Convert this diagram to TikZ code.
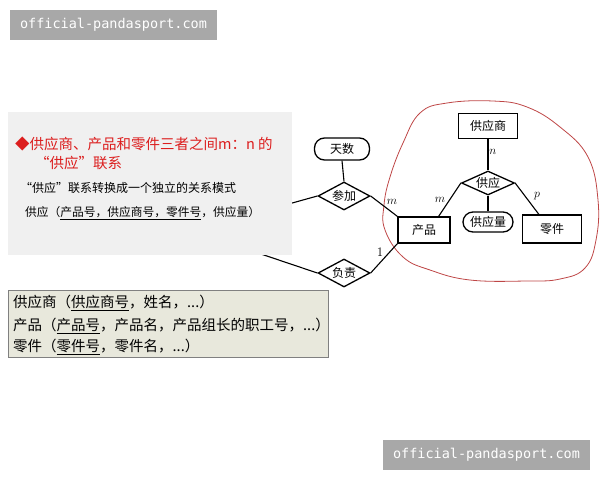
\documentclass[tikz,border=0pt]{standalone}
\usepackage{fontspec}
\usetikzlibrary{shapes.geometric,calc}
\newfontfamily\cjk{Noto Sans CJK SC}
\newfontfamily\song{Noto Sans CJK SC}
\newfontfamily\wmfont{DejaVu Sans Mono}
\definecolor{wmgray}{RGB}{168,168,168}
\definecolor{panelgray}{RGB}{240,240,240}
\definecolor{boxfill}{RGB}{232,232,220}
\definecolor{boxline}{RGB}{128,128,128}
\definecolor{redtxt}{RGB}{220,30,30}
\definecolor{blobred}{RGB}{190,70,70}
\newcommand\ulx[1]{\underline{#1}}
\tikzset{
  wm/.style={fill=wmgray, text=white, inner sep=0pt, minimum width=207pt, minimum height=30pt, font=\wmfont\fontsize{13.5}{14}\selectfont},
  entity/.style={draw, line width=1.3pt, inner sep=0pt, font=\song\fontsize{12}{13}\selectfont},
  attr/.style={draw, line width=1.3pt, rounded corners=10pt, inner sep=0pt, font=\song\fontsize{12}{13}\selectfont},
  rel/.style={draw, diamond, aspect=1.9, line width=1.3pt, inner sep=0pt, font=\song\fontsize{12}{13}\selectfont},
  conn/.style={line width=1.1pt},
  card/.style={font=\fontsize{13}{14}\selectfont, inner sep=0pt},
  txt/.style={anchor=west, inner sep=0pt},
}
\begin{document}
\begin{tikzpicture}[x=1pt,y=-1pt]
\useasboundingbox (0,0) rectangle (600,480);
% watermarks
\node[wm] (wm1) at (113.5,25) {official-pandasport.com};
\node[wm] (wm2) at (486.5,455) {official-pandasport.com};
% red blob
\draw[blobred, line width=0.8pt] plot[smooth cycle, tension=0.7] coordinates {
  (420,113) (447,103) (493,101) (527,107) (560,127) (588,157) (598,200)
  (596,240) (585,268) (560,279) (527,281) (470,280) (430,270) (403,257)
  (385,230) (384,205) (390,177) (403,143)};
% ER nodes
\node[attr, minimum width=55pt, minimum height=22pt] (tianshu) at (342,149) {天数};
\node[rel, minimum width=52pt, minimum height=28pt] (canjia) at (344,196) {参加};
\node[rel, minimum width=52pt, minimum height=28pt] (fuze) at (344,273) {负责};
\node[entity, minimum width=52pt, minimum height=26pt] (chanpin) at (424,230) {产品};
\node[entity, minimum width=59pt, minimum height=25pt] (gysh) at (488,126) {供应商};
\node[rel, minimum width=53pt, minimum height=24pt] (gy) at (488,183) {供应};
\node[attr, minimum width=50pt, minimum height=20pt] (gyl) at (488,222) {供应量};
\node[entity, minimum width=59pt, minimum height=28pt] (lj) at (552,229) {零件};
\coordinate (cjfree) at (285,205);
\coordinate (fzfree) at (258,253);
% connectors
\draw[conn] (tianshu.south) -- (canjia.north);
\draw[conn] (cjfree) -- (canjia.west);
\draw[conn] (canjia.east) -- (chanpin.north west);
\draw[conn] (fzfree) -- (fuze.west);
\draw[conn] (fuze.east) -- (chanpin.south west);
\draw[conn] (gysh.south) -- (gy.north);
\draw[conn] (gy.south) -- (gyl.north);
\draw[conn] (gy.west) -- ([xshift=-12pt]chanpin.north east);
\draw[conn] (gy.east) -- ([xshift=17pt]lj.north west);
% cardinalities
\node[card] (c1) at (392,202) {$m$};
\node[card] (c2) at (380,252) {1};
\node[card] (c3) at (493,152) {$n$};
\node[card] (c4) at (440,200) {$m$};
\node[card] (c5) at (537,196) {$p$};
% panel
\node[fill=panelgray, inner sep=0pt, minimum width=284pt, minimum height=143pt, anchor=north west] (panel) at (8,112) {};
\node[txt, text=redtxt, font=\cjk\fontsize{14.5}{15}\selectfont] (p1) at (15,144) {◆供应商、产品和零件三者之间m：n 的};
\node[txt, text=redtxt, font=\cjk\fontsize{14.5}{15}\selectfont] (p2) at (35,163) {“供应”联系};
\node[txt, font=\cjk\fontsize{12}{13}\selectfont] (p3) at (20,188) {“供应”联系转换成一个独立的关系模式};
\node[txt, font=\cjk\fontsize{11.75}{13}\selectfont] (p4) at (25,213) {供应（\ulx{产品号，供应商号，零件号}，供应量）};
% bottom box
\node[draw=boxline, fill=boxfill, line width=1pt, inner sep=0pt, minimum width=320pt, minimum height=67pt, anchor=north west] (box) at (8,290) {};
\node[txt, font=\cjk\fontsize{14.5}{15}\selectfont] (b1) at (13,303) {供应商（\ulx{供应商号}，姓名，...）};
\node[txt, font=\cjk\fontsize{14.5}{15}\selectfont] (b2) at (13,326) {产品（\ulx{产品号}，产品名，产品组长的职工号，...）};
\node[txt, font=\cjk\fontsize{14.5}{15}\selectfont] (b3) at (13,347) {零件（\ulx{零件号}，零件名，...）};
\end{tikzpicture}
\end{document}
